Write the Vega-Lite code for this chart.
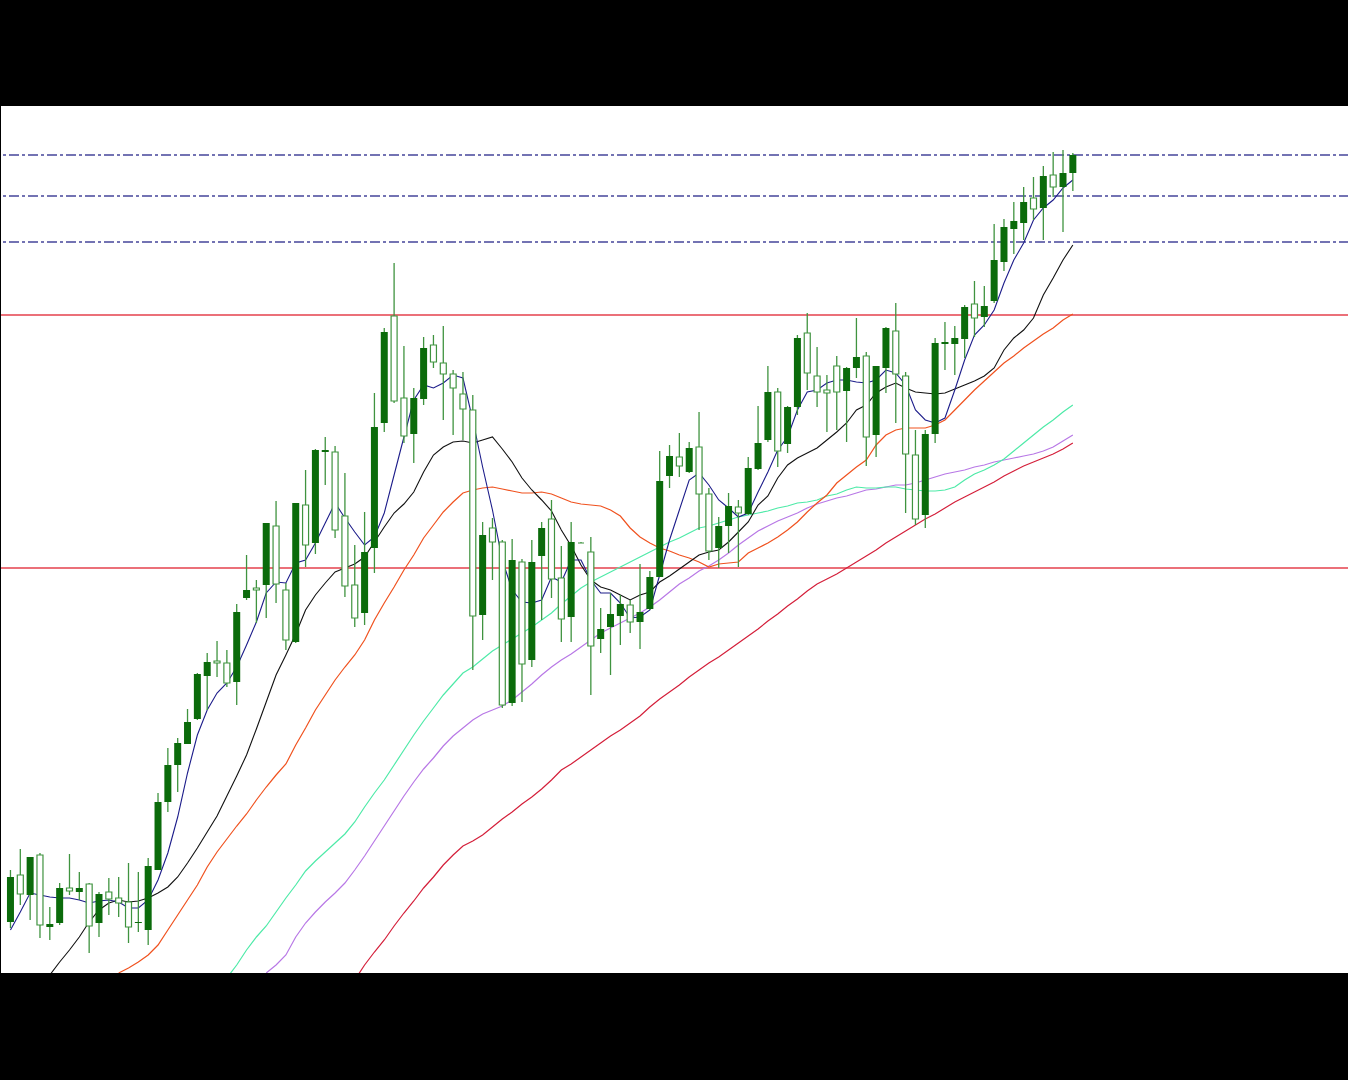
{
"$schema": "https://vega.github.io/schema/vega-lite/v6.json",
"width": 1348, "height": 867,
"padding": {"left": 0, "right": 0, "top": 106, "bottom": 107},
"background": "black",
"config": {"view": {"fill": "white", "stroke": null}},
"datasets": {
"levels": [{"p": 658, "kind": "sr"}, {"p": 405, "kind": "sr"}, {"p": 818, "kind": "fib"}, {"p": 777, "kind": "fib"}, {"p": 731, "kind": "fib"}],
"candles": [
{"i":0,"o":51,"h":103,"l":45,"c":96,"ma5":43},
{"i":1,"o":98,"h":124,"l":68,"c":79,"ma5":61},
{"i":2,"o":78,"h":116,"l":53,"c":116,"ma5":80},
{"i":3,"o":118,"h":120,"l":35,"c":48,"ma5":78},
{"i":4,"o":46,"h":66,"l":33,"c":49,"ma5":76,"ma13":-2},
{"i":5,"o":50,"h":90,"l":48,"c":85,"ma5":75,"ma13":11},
{"i":6,"o":85,"h":119,"l":78,"c":82,"ma5":75,"ma13":23},
{"i":7,"o":81,"h":101,"l":73,"c":85,"ma5":73,"ma13":36},
{"i":8,"o":89,"h":90,"l":20,"c":47,"ma5":70,"ma13":51},
{"i":9,"o":50,"h":81,"l":36,"c":79,"ma5":72,"ma13":63},
{"i":10,"o":81,"h":95,"l":58,"c":74,"ma5":73,"ma13":70},
{"i":11,"o":75,"h":96,"l":56,"c":70,"ma5":71,"ma13":73,"ma21":0},
{"i":12,"o":71,"h":110,"l":30,"c":46,"ma5":65,"ma13":71,"ma21":5},
{"i":13,"o":50,"h":101,"l":41,"c":51,"ma5":65,"ma13":72,"ma21":11},
{"i":14,"o":43,"h":115,"l":28,"c":107,"ma5":73,"ma13":75,"ma21":18},
{"i":15,"o":103,"h":180,"l":103,"c":171,"ma5":93,"ma13":80,"ma21":28},
{"i":16,"o":171,"h":225,"l":161,"c":208,"ma5":120,"ma13":86,"ma21":43},
{"i":17,"o":208,"h":235,"l":181,"c":230,"ma5":156,"ma13":96,"ma21":58},
{"i":18,"o":229,"h":264,"l":229,"c":251,"ma5":200,"ma13":110,"ma21":73},
{"i":19,"o":254,"h":300,"l":253,"c":299,"ma5":238,"ma13":125,"ma21":88},
{"i":20,"o":297,"h":320,"l":263,"c":311,"ma5":263,"ma13":141,"ma21":106},
{"i":21,"o":312,"h":332,"l":296,"c":310,"ma5":280,"ma13":157,"ma21":121},
{"i":22,"o":310,"h":323,"l":286,"c":290,"ma5":290,"ma13":177,"ma21":134,"ma50":-5},
{"i":23,"o":291,"h":369,"l":268,"c":361,"ma5":306,"ma13":197,"ma21":147,"ma50":8},
{"i":24,"o":375,"h":418,"l":373,"c":383,"ma5":328,"ma13":218,"ma21":159,"ma50":23},
{"i":25,"o":385,"h":393,"l":350,"c":383,"ma5":351,"ma13":244,"ma21":173,"ma50":36},
{"i":26,"o":388,"h":450,"l":355,"c":450,"ma5":380,"ma13":271,"ma21":186,"ma50":47,"ma60":0},
{"i":27,"o":447,"h":472,"l":370,"c":389,"ma5":391,"ma13":298,"ma21":198,"ma50":61,"ma60":8},
{"i":28,"o":383,"h":390,"l":323,"c":333,"ma5":390,"ma13":318,"ma21":209,"ma50":75,"ma60":18},
{"i":29,"o":331,"h":470,"l":330,"c":470,"ma5":410,"ma13":339,"ma21":228,"ma50":88,"ma60":36},
{"i":30,"o":468,"h":503,"l":406,"c":428,"ma5":413,"ma13":363,"ma21":245,"ma50":102,"ma60":50},
{"i":31,"o":430,"h":524,"l":419,"c":523,"ma5":430,"ma13":378,"ma21":263,"ma50":112,"ma60":61},
{"i":32,"o":521,"h":536,"l":488,"c":523,"ma5":450,"ma13":390,"ma21":278,"ma50":121,"ma60":71},
{"i":33,"o":521,"h":527,"l":435,"c":443,"ma5":470,"ma13":401,"ma21":293,"ma50":130,"ma60":80},
{"i":34,"o":457,"h":500,"l":376,"c":387,"ma5":455,"ma13":405,"ma21":306,"ma50":139,"ma60":90},
{"i":35,"o":388,"h":428,"l":346,"c":355,"ma5":441,"ma13":409,"ma21":318,"ma50":151,"ma60":103,"ma100":-7},
{"i":36,"o":360,"h":461,"l":348,"c":421,"ma5":428,"ma13":416,"ma21":333,"ma50":166,"ma60":117,"ma100":8},
{"i":37,"o":425,"h":580,"l":400,"c":546,"ma5":436,"ma13":431,"ma21":353,"ma50":180,"ma60":132,"ma100":21},
{"i":38,"o":550,"h":645,"l":541,"c":641,"ma5":460,"ma13":446,"ma21":370,"ma50":193,"ma60":147,"ma100":33},
{"i":39,"o":657,"h":710,"l":570,"c":572,"ma5":498,"ma13":460,"ma21":386,"ma50":208,"ma60":162,"ma100":47},
{"i":40,"o":575,"h":627,"l":530,"c":537,"ma5":536,"ma13":469,"ma21":403,"ma50":223,"ma60":177,"ma100":60},
{"i":41,"o":539,"h":585,"l":510,"c":575,"ma5":573,"ma13":481,"ma21":418,"ma50":238,"ma60":191,"ma100":72},
{"i":42,"o":574,"h":636,"l":568,"c":625,"ma5":588,"ma13":501,"ma21":435,"ma50":252,"ma60":204,"ma100":85},
{"i":43,"o":628,"h":638,"l":605,"c":611,"ma5":585,"ma13":518,"ma21":448,"ma50":265,"ma60":215,"ma100":96},
{"i":44,"o":610,"h":647,"l":553,"c":599,"ma5":590,"ma13":526,"ma21":461,"ma50":278,"ma60":227,"ma100":108},
{"i":45,"o":599,"h":603,"l":538,"c":585,"ma5":598,"ma13":531,"ma21":471,"ma50":289,"ma60":237,"ma100":118},
{"i":46,"o":579,"h":601,"l":533,"c":564,"ma5":595,"ma13":532,"ma21":480,"ma50":300,"ma60":245,"ma100":127},
{"i":47,"o":563,"h":578,"l":303,"c":357,"ma5":553,"ma13":530,"ma21":483,"ma50":306,"ma60":253,"ma100":132},
{"i":48,"o":358,"h":451,"l":333,"c":438,"ma5":506,"ma13":533,"ma21":485,"ma50":314,"ma60":259,"ma100":138},
{"i":49,"o":445,"h":455,"l":393,"c":431,"ma5":463,"ma13":536,"ma21":486,"ma50":322,"ma60":263,"ma100":146},
{"i":50,"o":431,"h":433,"l":265,"c":268,"ma5":413,"ma13":524,"ma21":484,"ma50":328,"ma60":267,"ma100":154},
{"i":51,"o":270,"h":434,"l":267,"c":413,"ma5":383,"ma13":511,"ma21":482,"ma50":334,"ma60":273,"ma100":161},
{"i":52,"o":411,"h":414,"l":271,"c":309,"ma5":371,"ma13":495,"ma21":480,"ma50":340,"ma60":281,"ma100":169},
{"i":53,"o":313,"h":433,"l":306,"c":411,"ma5":370,"ma13":483,"ma21":480,"ma50":346,"ma60":289,"ma100":176},
{"i":54,"o":417,"h":451,"l":353,"c":445,"ma5":373,"ma13":473,"ma21":481,"ma50":353,"ma60":298,"ma100":184},
{"i":55,"o":454,"h":473,"l":375,"c":394,"ma5":396,"ma13":462,"ma21":479,"ma50":360,"ma60":306,"ma100":193},
{"i":56,"o":395,"h":427,"l":331,"c":354,"ma5":391,"ma13":443,"ma21":475,"ma50":369,"ma60":313,"ma100":203},
{"i":57,"o":356,"h":451,"l":331,"c":431,"ma5":413,"ma13":427,"ma21":471,"ma50":377,"ma60":319,"ma100":209},
{"i":58,"o":430,"h":431,"l":430,"c":430,"ma5":413,"ma13":408,"ma21":469,"ma50":385,"ma60":326,"ma100":216},
{"i":59,"o":421,"h":436,"l":278,"c":327,"ma5":393,"ma13":393,"ma21":468,"ma50":391,"ma60":333,"ma100":223},
{"i":60,"o":334,"h":365,"l":320,"c":344,"ma5":380,"ma13":386,"ma21":467,"ma50":396,"ma60":340,"ma100":230},
{"i":61,"o":346,"h":380,"l":298,"c":359,"ma5":380,"ma13":383,"ma21":463,"ma50":401,"ma60":345,"ma100":237},
{"i":62,"o":357,"h":378,"l":328,"c":369,"ma5":370,"ma13":378,"ma21":457,"ma50":406,"ma60":350,"ma100":243},
{"i":63,"o":368,"h":373,"l":340,"c":351,"ma5":355,"ma13":373,"ma21":445,"ma50":411,"ma60":355,"ma100":250},
{"i":64,"o":351,"h":409,"l":324,"c":361,"ma5":356,"ma13":378,"ma21":436,"ma50":416,"ma60":360,"ma100":257},
{"i":65,"o":364,"h":402,"l":363,"c":396,"ma5":363,"ma13":381,"ma21":430,"ma50":421,"ma60":366,"ma100":266},
{"i":66,"o":396,"h":522,"l":396,"c":492,"ma5":398,"ma13":391,"ma21":425,"ma50":426,"ma60":373,"ma100":274},
{"i":67,"o":497,"h":528,"l":485,"c":517,"ma5":433,"ma13":397,"ma21":422,"ma50":431,"ma60":381,"ma100":281},
{"i":68,"o":516,"h":540,"l":496,"c":507,"ma5":463,"ma13":404,"ma21":418,"ma50":435,"ma60":389,"ma100":288},
{"i":69,"o":501,"h":531,"l":500,"c":525,"ma5":493,"ma13":411,"ma21":415,"ma50":440,"ma60":395,"ma100":296},
{"i":70,"o":526,"h":561,"l":443,"c":479,"ma5":500,"ma13":418,"ma21":411,"ma50":445,"ma60":402,"ma100":303},
{"i":71,"o":479,"h":485,"l":413,"c":422,"ma5":488,"ma13":421,"ma21":406,"ma50":447,"ma60":407,"ma100":310},
{"i":72,"o":425,"h":456,"l":405,"c":447,"ma5":473,"ma13":423,"ma21":409,"ma50":450,"ma60":413,"ma100":316},
{"i":73,"o":447,"h":480,"l":420,"c":467,"ma5":465,"ma13":431,"ma21":410,"ma50":453,"ma60":420,"ma100":323},
{"i":74,"o":466,"h":473,"l":406,"c":460,"ma5":456,"ma13":441,"ma21":411,"ma50":456,"ma60":428,"ma100":330},
{"i":75,"o":459,"h":516,"l":458,"c":505,"ma5":460,"ma13":451,"ma21":420,"ma50":458,"ma60":435,"ma100":337},
{"i":76,"o":504,"h":567,"l":503,"c":530,"ma5":481,"ma13":468,"ma21":425,"ma50":460,"ma60":442,"ma100":344},
{"i":77,"o":533,"h":607,"l":531,"c":581,"ma5":501,"ma13":477,"ma21":430,"ma50":462,"ma60":447,"ma100":352},
{"i":78,"o":581,"h":585,"l":506,"c":522,"ma5":523,"ma13":495,"ma21":436,"ma50":465,"ma60":452,"ma100":359},
{"i":79,"o":529,"h":567,"l":520,"c":566,"ma5":536,"ma13":508,"ma21":443,"ma50":467,"ma60":456,"ma100":367},
{"i":80,"o":566,"h":638,"l":558,"c":635,"ma5":563,"ma13":515,"ma21":451,"ma50":470,"ma60":460,"ma100":374},
{"i":81,"o":640,"h":660,"l":583,"c":600,"ma5":581,"ma13":520,"ma21":461,"ma50":471,"ma60":465,"ma100":382},
{"i":82,"o":597,"h":626,"l":566,"c":581,"ma5":583,"ma13":525,"ma21":470,"ma50":473,"ma60":469,"ma100":389},
{"i":83,"o":583,"h":598,"l":541,"c":580,"ma5":590,"ma13":533,"ma21":478,"ma50":477,"ma60":472,"ma100":394},
{"i":84,"o":607,"h":617,"l":543,"c":581,"ma5":593,"ma13":541,"ma21":490,"ma50":479,"ma60":475,"ma100":399},
{"i":85,"o":582,"h":606,"l":531,"c":605,"ma5":593,"ma13":550,"ma21":498,"ma50":483,"ma60":477,"ma100":405},
{"i":86,"o":605,"h":655,"l":595,"c":616,"ma5":591,"ma13":563,"ma21":506,"ma50":486,"ma60":480,"ma100":411},
{"i":87,"o":617,"h":621,"l":507,"c":536,"ma5":590,"ma13":568,"ma21":513,"ma50":485,"ma60":483,"ma100":417},
{"i":88,"o":538,"h":607,"l":516,"c":607,"ma5":593,"ma13":580,"ma21":528,"ma50":485,"ma60":484,"ma100":423},
{"i":89,"o":605,"h":646,"l":580,"c":645,"ma5":603,"ma13":586,"ma21":538,"ma50":486,"ma60":486,"ma100":430},
{"i":90,"o":642,"h":670,"l":550,"c":599,"ma5":600,"ma13":590,"ma21":543,"ma50":486,"ma60":488,"ma100":436},
{"i":91,"o":597,"h":601,"l":460,"c":519,"ma5":588,"ma13":585,"ma21":545,"ma50":484,"ma60":488,"ma100":442},
{"i":92,"o":518,"h":543,"l":448,"c":454,"ma5":563,"ma13":581,"ma21":545,"ma50":483,"ma60":490,"ma100":448},
{"i":93,"o":458,"h":543,"l":445,"c":539,"ma5":553,"ma13":580,"ma21":545,"ma50":482,"ma60":493,"ma100":454},
{"i":94,"o":539,"h":635,"l":530,"c":630,"ma5":550,"ma13":579,"ma21":548,"ma50":482,"ma60":496,"ma100":459},
{"i":95,"o":629,"h":651,"l":603,"c":631,"ma5":555,"ma13":580,"ma21":553,"ma50":483,"ma60":499,"ma100":465},
{"i":96,"o":629,"h":647,"l":598,"c":635,"ma5":583,"ma13":584,"ma21":563,"ma50":486,"ma60":501,"ma100":471},
{"i":97,"o":634,"h":668,"l":615,"c":666,"ma5":613,"ma13":588,"ma21":573,"ma50":493,"ma60":503,"ma100":476},
{"i":98,"o":669,"h":692,"l":636,"c":655,"ma5":638,"ma13":592,"ma21":583,"ma50":499,"ma60":506,"ma100":481},
{"i":99,"o":656,"h":687,"l":646,"c":667,"ma5":648,"ma13":597,"ma21":592,"ma50":503,"ma60":508,"ma100":486},
{"i":100,"o":672,"h":749,"l":670,"c":713,"ma5":663,"ma13":605,"ma21":601,"ma50":508,"ma60":511,"ma100":491},
{"i":101,"o":711,"h":754,"l":702,"c":746,"ma5":690,"ma13":623,"ma21":610,"ma50":514,"ma60":513,"ma100":497},
{"i":102,"o":744,"h":771,"l":719,"c":752,"ma5":713,"ma13":635,"ma21":617,"ma50":522,"ma60":515,"ma100":502},
{"i":103,"o":750,"h":786,"l":733,"c":771,"ma5":730,"ma13":643,"ma21":625,"ma50":530,"ma60":517,"ma100":507},
{"i":104,"o":775,"h":796,"l":753,"c":764,"ma5":753,"ma13":655,"ma21":632,"ma50":538,"ma60":519,"ma100":511},
{"i":105,"o":765,"h":807,"l":733,"c":797,"ma5":765,"ma13":678,"ma21":639,"ma50":546,"ma60":522,"ma100":515},
{"i":106,"o":798,"h":821,"l":776,"c":786,"ma5":773,"ma13":695,"ma21":645,"ma50":553,"ma60":526,"ma100":519},
{"i":107,"o":786,"h":823,"l":741,"c":800,"ma5":785,"ma13":713,"ma21":653,"ma50":561,"ma60":532,"ma100":524},
{"i":108,"o":800,"h":820,"l":782,"c":818,"ma5":793,"ma13":728,"ma21":659,"ma50":568,"ma60":538,"ma100":530}
]
},
"layer": [
{"data": {"name": "levels"}, "transform": [{"filter": "datum.kind == 'sr'"}],
 "mark": {"type": "rule", "color": "#e5404c", "strokeWidth": 1.4},
 "encoding": {"y": {"field": "p", "type": "quantitative", "scale": {"domain": [0, 867], "nice": false, "zero": false}, "axis": null}}},
{"data": {"name": "levels"}, "transform": [{"filter": "datum.kind == 'fib'"}],
 "mark": {"type": "rule", "color": "#46469a", "strokeWidth": 1.7, "strokeDash": [10, 3, 3, 3]},
 "encoding": {"y": {"field": "p", "type": "quantitative", "scale": {"domain": [0, 867], "nice": false, "zero": false}, "axis": null}}},
{"data": {"name": "candles"}, "transform": [{"filter": "isValid(datum.ma100)"}],
 "mark": {"type": "line", "color": "#d41f3a", "strokeWidth": 1.2, "clip": true},
 "encoding": {"x": {"field": "i", "type": "quantitative", "scale": {"domain": [-0.454, 135.566], "nice": false, "zero": false}, "axis": null},
  "y": {"field": "ma100", "type": "quantitative", "scale": {"domain": [0, 867], "nice": false, "zero": false}, "axis": null}}},
{"data": {"name": "candles"}, "transform": [{"filter": "isValid(datum.ma60)"}],
 "mark": {"type": "line", "color": "#b878e6", "strokeWidth": 1.2, "clip": true},
 "encoding": {"x": {"field": "i", "type": "quantitative", "scale": {"domain": [-0.454, 135.566], "nice": false, "zero": false}, "axis": null},
  "y": {"field": "ma60", "type": "quantitative", "scale": {"domain": [0, 867], "nice": false, "zero": false}, "axis": null}}},
{"data": {"name": "candles"}, "transform": [{"filter": "isValid(datum.ma50)"}],
 "mark": {"type": "line", "color": "#4eeaa8", "strokeWidth": 1.2, "clip": true},
 "encoding": {"x": {"field": "i", "type": "quantitative", "scale": {"domain": [-0.454, 135.566], "nice": false, "zero": false}, "axis": null},
  "y": {"field": "ma50", "type": "quantitative", "scale": {"domain": [0, 867], "nice": false, "zero": false}, "axis": null}}},
{"data": {"name": "candles"}, "transform": [{"filter": "isValid(datum.ma21)"}],
 "mark": {"type": "line", "color": "#f0521f", "strokeWidth": 1.2, "clip": true},
 "encoding": {"x": {"field": "i", "type": "quantitative", "scale": {"domain": [-0.454, 135.566], "nice": false, "zero": false}, "axis": null},
  "y": {"field": "ma21", "type": "quantitative", "scale": {"domain": [0, 867], "nice": false, "zero": false}, "axis": null}}},
{"data": {"name": "candles"}, "transform": [{"filter": "isValid(datum.ma13)"}],
 "mark": {"type": "line", "color": "#111111", "strokeWidth": 1.1, "clip": true},
 "encoding": {"x": {"field": "i", "type": "quantitative", "scale": {"domain": [-0.454, 135.566], "nice": false, "zero": false}, "axis": null},
  "y": {"field": "ma13", "type": "quantitative", "scale": {"domain": [0, 867], "nice": false, "zero": false}, "axis": null}}},
{"data": {"name": "candles"}, "transform": [{"filter": "isValid(datum.ma5)"}],
 "mark": {"type": "line", "color": "#1c1c8a", "strokeWidth": 1.1, "clip": true},
 "encoding": {"x": {"field": "i", "type": "quantitative", "scale": {"domain": [-0.454, 135.566], "nice": false, "zero": false}, "axis": null},
  "y": {"field": "ma5", "type": "quantitative", "scale": {"domain": [0, 867], "nice": false, "zero": false}, "axis": null}}},
{"data": {"name": "candles"},
 "mark": {"type": "rule", "color": "#3f933f", "strokeWidth": 1.3, "clip": true},
 "encoding": {"x": {"field": "i", "type": "quantitative", "scale": {"domain": [-0.454, 135.566], "nice": false, "zero": false}, "axis": null},
  "y": {"field": "l", "type": "quantitative", "scale": {"domain": [0, 867], "nice": false, "zero": false}, "axis": null},
  "y2": {"field": "h"}}},
{"data": {"name": "candles"}, "transform": [{"filter": "datum.c > datum.o"}],
 "mark": {"type": "bar", "size": 7, "color": "#0b6b0b", "clip": true},
 "encoding": {"x": {"field": "i", "type": "quantitative", "scale": {"domain": [-0.454, 135.566], "nice": false, "zero": false}, "axis": null},
  "y": {"field": "o", "type": "quantitative", "scale": {"domain": [0, 867], "nice": false, "zero": false}, "axis": null},
  "y2": {"field": "c"}}},
{"data": {"name": "candles"}, "transform": [{"filter": "datum.c <= datum.o"}],
 "mark": {"type": "bar", "size": 6, "fill": "white", "stroke": "#3f933f", "strokeWidth": 1.2, "clip": true},
 "encoding": {"x": {"field": "i", "type": "quantitative", "scale": {"domain": [-0.454, 135.566], "nice": false, "zero": false}, "axis": null},
  "y": {"field": "o", "type": "quantitative", "scale": {"domain": [0, 867], "nice": false, "zero": false}, "axis": null},
  "y2": {"field": "c"}}}
]
}
